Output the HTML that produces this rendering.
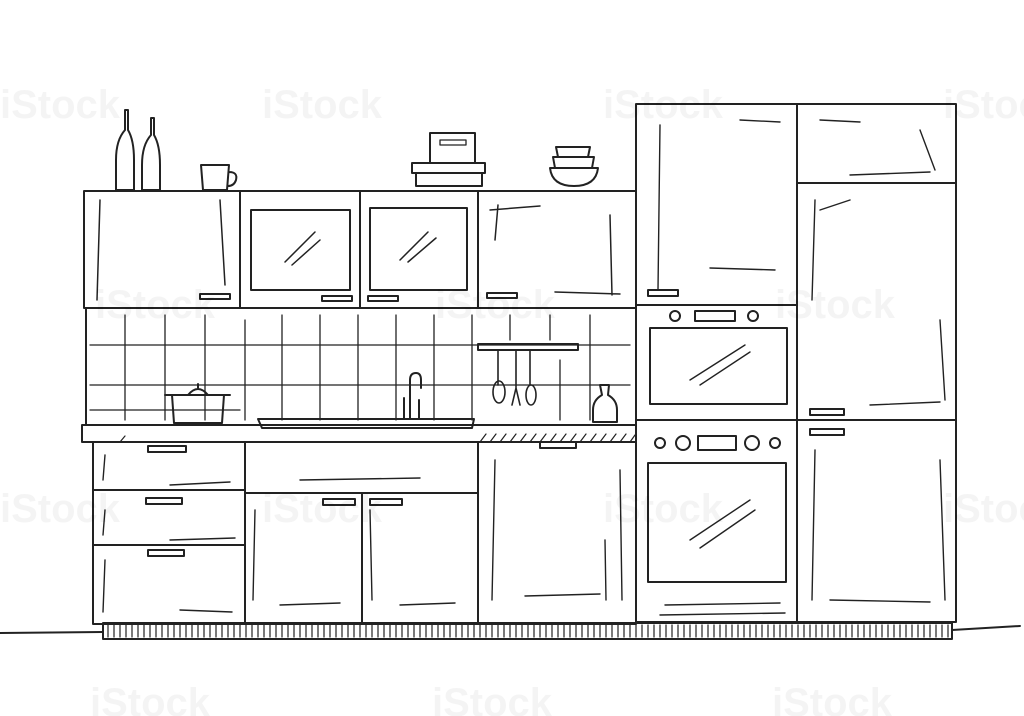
<!DOCTYPE html>
<html><head><meta charset="utf-8"><style>
html,body{margin:0;padding:0;background:#fff;width:1024px;height:716px;overflow:hidden}
svg{display:block}
text{font-family:"Liberation Sans",sans-serif;fill:#000;opacity:0.04;font-weight:bold}
</style></head><body>
<svg width="1024" height="716" viewBox="0 0 1024 716" xmlns="http://www.w3.org/2000/svg">
<g fill="none" stroke="#222" stroke-width="2" stroke-linecap="round" stroke-linejoin="round">
<path d="M0 633 L103 632 M952 630 L1020 626"/>
<rect x="103" y="623" width="849" height="16"/>
<path d="M108 625 v12 M114 625 v12 M120 625 v12 M126 625 v12 M132 625 v12 M138 625 v12 M144 625 v12 M150 625 v12 M156 625 v12 M162 625 v12 M168 625 v12 M174 625 v12 M180 625 v12 M186 625 v12 M192 625 v12 M198 625 v12 M204 625 v12 M210 625 v12 M216 625 v12 M222 625 v12 M228 625 v12 M234 625 v12 M240 625 v12 M246 625 v12 M252 625 v12 M258 625 v12 M264 625 v12 M270 625 v12 M276 625 v12 M282 625 v12 M288 625 v12 M294 625 v12 M300 625 v12 M306 625 v12 M312 625 v12 M318 625 v12 M324 625 v12 M330 625 v12 M336 625 v12 M342 625 v12 M348 625 v12 M354 625 v12 M360 625 v12 M366 625 v12 M372 625 v12 M378 625 v12 M384 625 v12 M390 625 v12 M396 625 v12 M402 625 v12 M408 625 v12 M414 625 v12 M420 625 v12 M426 625 v12 M432 625 v12 M438 625 v12 M444 625 v12 M450 625 v12 M456 625 v12 M462 625 v12 M468 625 v12 M474 625 v12 M480 625 v12 M486 625 v12 M492 625 v12 M498 625 v12 M504 625 v12 M510 625 v12 M516 625 v12 M522 625 v12 M528 625 v12 M534 625 v12 M540 625 v12 M546 625 v12 M552 625 v12 M558 625 v12 M564 625 v12 M570 625 v12 M576 625 v12 M582 625 v12 M588 625 v12 M594 625 v12 M600 625 v12 M606 625 v12 M612 625 v12 M618 625 v12 M624 625 v12 M630 625 v12 M636 625 v12 M642 625 v12 M648 625 v12 M654 625 v12 M660 625 v12 M666 625 v12 M672 625 v12 M678 625 v12 M684 625 v12 M690 625 v12 M696 625 v12 M702 625 v12 M708 625 v12 M714 625 v12 M720 625 v12 M726 625 v12 M732 625 v12 M738 625 v12 M744 625 v12 M750 625 v12 M756 625 v12 M762 625 v12 M768 625 v12 M774 625 v12 M780 625 v12 M786 625 v12 M792 625 v12 M798 625 v12 M804 625 v12 M810 625 v12 M816 625 v12 M822 625 v12 M828 625 v12 M834 625 v12 M840 625 v12 M846 625 v12 M852 625 v12 M858 625 v12 M864 625 v12 M870 625 v12 M876 625 v12 M882 625 v12 M888 625 v12 M894 625 v12 M900 625 v12 M906 625 v12 M912 625 v12 M918 625 v12 M924 625 v12 M930 625 v12 M936 625 v12 M942 625 v12 M948 625 v12" stroke-width="1.2"/>
<rect x="84" y="191" width="552" height="117"/>
<path d="M240 191 V308 M360 191 V308 M478 191 V308"/>
<rect x="251" y="210" width="99" height="80"/>
<rect x="370" y="208" width="97" height="82"/>
<path d="M285 262 L315 232 M292 265 L320 240 M400 260 L428 232 M408 262 L436 238" stroke-width="1.5"/>
<path d="M100 200 L97 300 M220 200 L225 285 M498 205 L495 240 M490 210 L540 206 M610 215 L612 295 M555 292 L620 294" stroke-width="1.5"/>
<rect x="200" y="294" width="30" height="5"/><rect x="322" y="296" width="30" height="5"/><rect x="368" y="296" width="30" height="5"/><rect x="487" y="293" width="30" height="5"/>
<path d="M86 308 V425 M636 308 V425" />
<path d="M90 345 H630 M90 385 H630 M90 410 H240 M125 315 V420 M165 315 V420 M205 315 V420 M245 320 V420 M282 315 V420 M320 315 V420 M358 315 V420 M396 315 V420 M434 315 V420 M472 315 V420 M510 315 V340 M550 315 V340 M590 315 V420 M560 360 V420" stroke-width="1.3"/>
<rect x="82" y="425" width="554" height="17"/>
<path d="M120 442 l5 -6 M480 442 l6 -8 M490 442 l6 -8 M500 442 l6 -8 M510 442 l6 -8 M520 442 l6 -8 M530 442 l6 -8 M540 442 l6 -8 M550 442 l6 -8 M560 442 l6 -8 M570 442 l6 -8 M580 442 l6 -8 M590 442 l6 -8 M600 442 l6 -8 M610 442 l6 -8 M620 442 l6 -8 M630 442 l5 -7" stroke-width="1.2"/>
<rect x="93" y="442" width="543" height="182"/>
<path d="M245 442 V624 M93 490 H245 M93 545 H245 M478 442 V624 M245 493 H478 M362 493 V624"/>
<rect x="148" y="446" width="38" height="6"/><rect x="146" y="498" width="36" height="6"/><rect x="148" y="550" width="36" height="6"/>
<rect x="323" y="499" width="32" height="6"/><rect x="370" y="499" width="32" height="6"/><rect x="540" y="442" width="36" height="6"/>
<path d="M105 455 L103 480 M105 510 L103 535 M105 560 L103 612 M170 485 L230 482 M170 540 L235 538 M180 610 L232 612 M300 480 L420 478 M255 510 L253 600 M280 605 L340 603 M370 510 L372 600 M400 605 L455 603 M495 460 L492 600 M525 596 L600 594 M605 540 L606 600 M620 470 L622 600" stroke-width="1.4"/>
<rect x="636" y="104" width="320" height="518"/>
<path d="M797 104 V622 M797 183 H956 M636 305 H797 M636 420 H956"/>
<path d="M660 125 L658 290 M710 268 L775 270 M740 120 L780 122 M820 120 L860 122 M850 175 L930 172 M920 130 L935 170 M815 200 L812 300 M820 210 L850 200 M940 320 L945 400 M870 405 L940 402 M815 450 L812 600 M830 600 L930 602 M940 460 L945 600" stroke-width="1.4"/>
<rect x="648" y="290" width="30" height="6"/><rect x="810" y="409" width="34" height="6"/><rect x="810" y="429" width="34" height="6"/>
<rect x="650" y="328" width="137" height="76"/>
<circle cx="675" cy="316" r="5"/><circle cx="753" cy="316" r="5"/><rect x="695" y="311" width="40" height="10"/>
<path d="M690 380 L745 345 M700 385 L750 352" stroke-width="1.4"/>
<rect x="648" y="463" width="138" height="119"/>
<circle cx="660" cy="443" r="5"/><circle cx="683" cy="443" r="7"/><rect x="698" y="436" width="38" height="14"/><circle cx="752" cy="443" r="7"/><circle cx="775" cy="443" r="5"/>
<path d="M690 540 L750 500 M700 548 L755 510" stroke-width="1.4"/>
<path d="M665 605 L780 603 M660 615 L785 613" stroke-width="1.4"/>
<path d="M125 110 L125 130 Q116 140 116 160 L116 190 L134 190 L134 160 Q134 140 128 130 L128 110 Z"/>
<path d="M151 118 L151 135 Q142 145 142 165 L142 190 L160 190 L160 165 Q160 145 154 135 L154 118 Z"/>
<path d="M201 165 L203 190 L227 190 L229 165 Z M229 172 Q238 172 236 180 Q234 186 228 186"/>
<rect x="430" y="133" width="45" height="30"/><rect x="412" y="163" width="73" height="10"/><path d="M416 173 V186 H482 V173"/>
<rect x="440" y="140" width="26" height="5" stroke-width="1.3"/>
<path d="M556 147 H590 L588 157 H558 Z M553 157 H594 L592 168 H555 Z M550 168 H598 Q596 186 574 186 Q552 186 550 168 Z"/>
<path d="M172 395 L174 423 L222 423 L224 395 Z M165 395 H230 M188 395 Q198 383 208 395 M198 384 V388"/>
<path d="M258 419 H474 L472 428 H262 Z"/>
<path d="M410 418 V380 Q410 373 416 373 Q421 373 421 380 V388 M404 418 V398 M419 400 V418"/>
<path d="M478 344 H578 V350 H478 Z"/>
<path d="M498 350 V385 M493 392 a6 11 0 1 0 12 0 a6 11 0 1 0 -12 0 M516 350 V388 L512 405 M516 388 L520 405 M530 350 V385 M526 395 a5 10 0 1 0 10 0 a5 10 0 1 0 -10 0" stroke-width="1.6"/>
<path d="M600 385 L602 395 Q593 400 593 410 L593 422 L617 422 L617 410 Q617 400 608 395 L609 385 Z"/>
</g>
<g font-size="40">
<text x="0" y="118">iStock</text><text x="262" y="118">iStock</text><text x="603" y="118">iStock</text><text x="943" y="118">iStock</text>
<text x="95" y="318">iStock</text><text x="435" y="318">iStock</text><text x="775" y="318">iStock</text>
<text x="0" y="522">iStock</text><text x="262" y="522">iStock</text><text x="603" y="522">iStock</text><text x="943" y="522">iStock</text>
<text x="90" y="716">iStock</text><text x="432" y="716">iStock</text><text x="772" y="716">iStock</text>
</g>
</svg>
</body></html>
